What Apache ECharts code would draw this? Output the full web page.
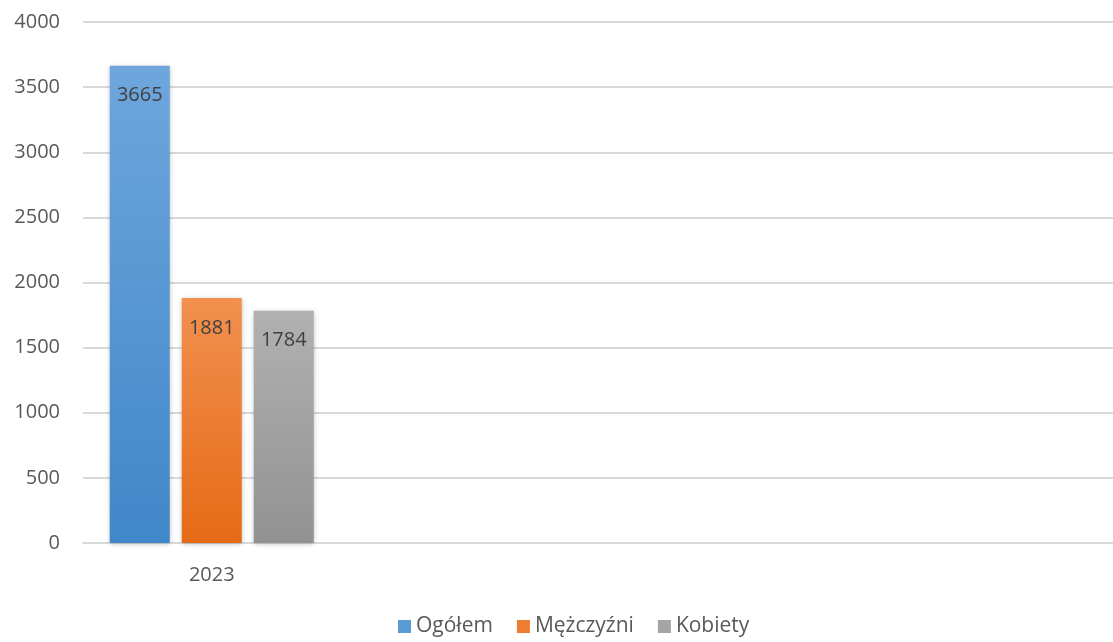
<!DOCTYPE html>
<html>
<head>
<meta charset="utf-8">
<script src="https://cdn.jsdelivr.net/npm/echarts@6/dist/echarts.min.js"></script>
<style>html,body{margin:0;padding:0;background:#fff}#c{width:1113px;height:642px}</style>
</head>
<body>
<div id="c"></div>
<script>
const categories = ['2023', '', '', ''];
const seriesNames = ['Ogółem', 'Mężczyźni', 'Kobiety'];
const ogolem = [3665, null, null, null];
const mezczyzni = [1881, null, null, null];
const kobiety = [1784, null, null, null];
const yTicks = { min: 0, max: 4000, interval: 500 };

const FONT = '"Open Sans", "Noto Sans", sans-serif';
const TXT = '#595959';
function grad(top, bottom) {
  return new echarts.graphic.LinearGradient(0, 0, 0, 1, [
    { offset: 0, color: top }, { offset: 1, color: bottom }
  ]);
}
const colors = [
  ['#6ea6dd', '#4087c9'],
  ['#f2904f', '#e56b16'],
  ['#b1b1b1', '#929292']
];
const legendColors = ['#5b9bd5', '#ed7d31', '#a5a5a5'];
const dataSets = [ogolem, mezczyzni, kobiety];

const chart = echarts.init(document.getElementById('c'), null, { renderer: 'canvas' });
chart.setOption({
  animation: false,
  backgroundColor: '#fff',
  textStyle: { fontFamily: FONT },
  grid: { left: 83, right: 0, top: 22, bottom: 99, containLabel: false },
  legend: {
    bottom: 0, left: 393,
    icon: 'rect', itemWidth: 13, itemHeight: 13, itemGap: 24,
    textStyle: { color: TXT, fontSize: 21, fontFamily: FONT },
    data: seriesNames.map((n, i) => ({ name: n, itemStyle: { color: legendColors[i] } }))
  },
  xAxis: {
    type: 'category', data: categories,
    axisLine: { lineStyle: { color: '#d9d9d9', width: 2 } },
    axisTick: { show: false },
    axisLabel: { color: TXT, fontSize: 20, margin: 22, fontFamily: FONT }
  },
  yAxis: {
    type: 'value', min: yTicks.min, max: yTicks.max, interval: yTicks.interval,
    axisLine: { show: false }, axisTick: { show: false },
    splitLine: { lineStyle: { color: '#d9d9d9', width: 2 } },
    axisLabel: { color: TXT, fontSize: 20, margin: 23, fontFamily: FONT, formatter: v => String(v) }
  },
  series: dataSets.map((d, i) => ({
    name: seriesNames[i], type: 'bar', data: d,
    barWidth: 60, barGap: '20%',
    itemStyle: { color: grad(colors[i][0], colors[i][1]), shadowBlur: 5, shadowColor: 'rgba(0,0,0,0.3)', shadowOffsetX: 0, shadowOffsetY: 1 },
    label: { show: true, position: 'insideTop', distance: 20, color: '#404040', fontSize: 20, fontFamily: FONT }
  }))
});
</script>
</body>
</html>
